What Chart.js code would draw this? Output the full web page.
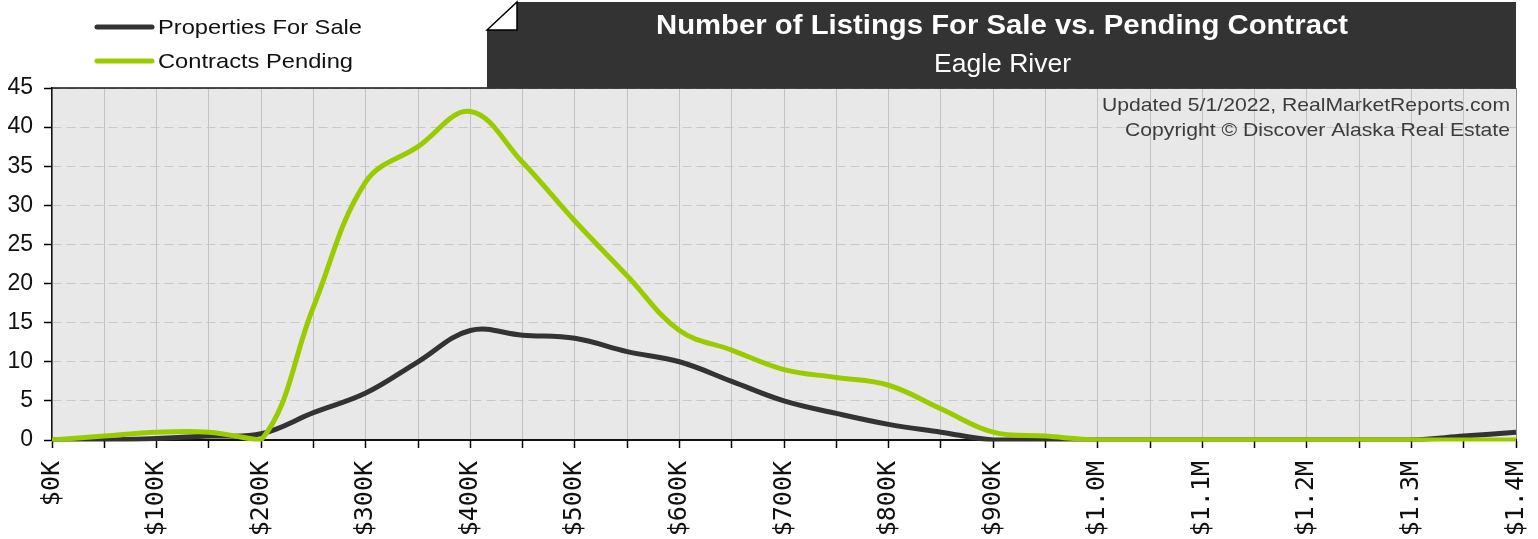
<!DOCTYPE html>
<html><head><meta charset="utf-8">
<script src="https://cdn.jsdelivr.net/npm/chart.js@4.4.0/dist/chart.umd.min.js"></script>
<style>html,body{margin:0;padding:0;background:#fff;}canvas{display:block}</style>
</head><body>
<canvas id="c" width="1538" height="539"></canvas>
<script>
const priceLabels = ['$0K','$50K','$100K','$150K','$200K','$250K','$300K','$350K','$400K','$450K',
  '$500K','$550K','$600K','$650K','$700K','$750K','$800K','$850K','$900K','$950K',
  '$1.0M','$1.05M','$1.1M','$1.15M','$1.2M','$1.25M','$1.3M','$1.35M','$1.4M'];
const forSale = [0,0,0.2,0.5,0.8,3.5,6,10,14,13.4,13,11.3,10,7.5,5,3.4,2,1,0,0,0,0,0,0,0,0,0,0.5,1];
const pending = [0,0.5,1,1,0,17,33,37.5,42,35.5,28,21,14,11.5,9,8,7,4,1,0.5,0,0,0,0,0,0,0,0,0];
const seriesNames = ['Properties For Sale','Contracts Pending'];
const seriesColors = ['#333333','#99cc00'];
const yTicks = [0,5,10,15,20,25,30,35,40,45];
const titleText = 'Number of Listings For Sale vs. Pending Contract';
const subtitleText = 'Eagle River';
const noteLines = ['Updated 5/1/2022, RealMarketReports.com','Copyright \u00A9 Discover Alaska Real Estate'];

function fitText(ctx, text, x, y, w, align){
  const m = ctx.measureText(text).width;
  const sx = w / m;
  ctx.save();
  ctx.translate(x, y);
  ctx.scale(sx, 1);
  ctx.textAlign = align;
  ctx.fillText(text, 0, 0);
  ctx.restore();
}

const decor = {
  id: 'decor',
  beforeDraw(chart){
    const {ctx, chartArea: a} = chart;
    ctx.save();
    ctx.fillStyle = '#e8e8e8';
    ctx.fillRect(a.left, a.top, a.right - a.left, a.bottom - a.top);
    ctx.restore();
  },
  beforeDatasetsDraw(chart){
    const {ctx, chartArea: a} = chart;
    ctx.save();
    ctx.fillStyle = '#3c3c3c';
    ctx.font = '19px "Liberation Sans", Arial, sans-serif';
    ctx.textBaseline = 'middle';
    fitText(ctx, noteLines[0], a.right - 6, 106, 408, 'right');
    fitText(ctx, noteLines[1], a.right - 6, 131, 385, 'right');
    ctx.restore();
  },
  afterDraw(chart){
    const {ctx, chartArea: a} = chart;
    ctx.save();
    ctx.strokeStyle = '#111';
    ctx.lineWidth = 1.5;
    ctx.beginPath(); ctx.moveTo(a.left, a.top); ctx.lineTo(a.right, a.top); ctx.stroke();
    const bx = 487, by = 2, br = a.right, bb = a.top;
    ctx.fillStyle = '#333333';
    ctx.beginPath();
    ctx.moveTo(bx, by + 28); ctx.lineTo(bx + 30, by); ctx.lineTo(br, by); ctx.lineTo(br, bb); ctx.lineTo(bx, bb); ctx.closePath();
    ctx.fill();
    ctx.fillStyle = '#ffffff';
    ctx.strokeStyle = '#000';
    ctx.lineWidth = 1.5;
    ctx.beginPath();
    ctx.moveTo(bx, by + 28); ctx.lineTo(bx + 30, by); ctx.lineTo(bx + 30, by + 28); ctx.closePath();
    ctx.fill(); ctx.stroke();
    ctx.fillStyle = '#ffffff';
    ctx.textBaseline = 'middle';
    ctx.font = 'bold 27px "Liberation Sans", Arial, sans-serif';
    fitText(ctx, titleText, 1002, 27, 692, 'center');
    ctx.font = '26px "Liberation Sans", Arial, sans-serif';
    fitText(ctx, subtitleText, 1002.5, 65, 137, 'center');
    const ly = [27, 61];
    const lw = [204, 195];
    chart.data.datasets.forEach((ds, i) => {
      ctx.strokeStyle = ds.borderColor;
      ctx.lineWidth = 5;
      ctx.lineCap = 'round';
      ctx.beginPath(); ctx.moveTo(97, ly[i]); ctx.lineTo(152, ly[i]); ctx.stroke();
      ctx.fillStyle = '#111';
      ctx.font = '21px "Liberation Sans", Arial, sans-serif';
      fitText(ctx, ds.label, 158, ly[i] + 1, lw[i], 'left');
    });
    ctx.restore();
  }
};

new Chart(document.getElementById('c'), {
  type: 'line',
  data: {
    labels: priceLabels,
    datasets: [
      {label: seriesNames[0], data: forSale, borderColor: seriesColors[0], borderWidth: 5, order: 1,
       pointRadius: 0, tension: 0.38, fill: false, clip: {left: 0, top: 3, right: 3, bottom: 1.5}},
      {label: seriesNames[1], data: pending, borderColor: seriesColors[1], borderWidth: 5, order: 0,
       pointRadius: 0, tension: 0.38, fill: false, clip: {left: 0, top: 3, right: 3, bottom: 1.5}}
    ]
  },
  options: {
    responsive: false,
    animation: false,
    layout: {padding: {top: 88, right: 22, left: 0, bottom: 0}},
    plugins: {legend: {display: false}, tooltip: {enabled: false}},
    scales: {
      x: {
        type: 'category',
        offset: false,
        afterFit(s){ s.height = 99; s.paddingRight = 0; s.paddingLeft = 0; },
        grid: {
          color: (c) => c.index === priceLabels.length - 1 ? '#8a8a8a' : '#c2c2c2',
          lineWidth: 1, tickColor: '#000', tickLength: 8, tickWidth: 1.5, drawOnChartArea: true
        },
        border: {color: '#111', width: 2},
        ticks: {
          autoSkip: false, minRotation: 90, maxRotation: 90, padding: 13, color: '#111',
          font: {family: '"DejaVu Sans Mono", monospace', size: 25},
          callback: (v, i) => i % 2 === 0 ? priceLabels[i] : ''
        }
      },
      y: {
        min: 0, max: 45,
        afterFit(s){ s.width = 52; },
        afterBuildTicks(s){ s.ticks = yTicks.map(v => ({value: v})); },
        grid: {color: '#c8c8c8', lineWidth: 1, tickColor: '#000', tickLength: 8, tickWidth: 1.5, tickBorderDash: []},
        border: {color: '#111', width: 1.5, dash: [9, 5]},
        ticks: {color: '#111', padding: 11, font: {family: '"Liberation Sans", Arial, sans-serif', size: 23}}
      }
    }
  },
  plugins: [decor]
});
</script>
</body></html>
